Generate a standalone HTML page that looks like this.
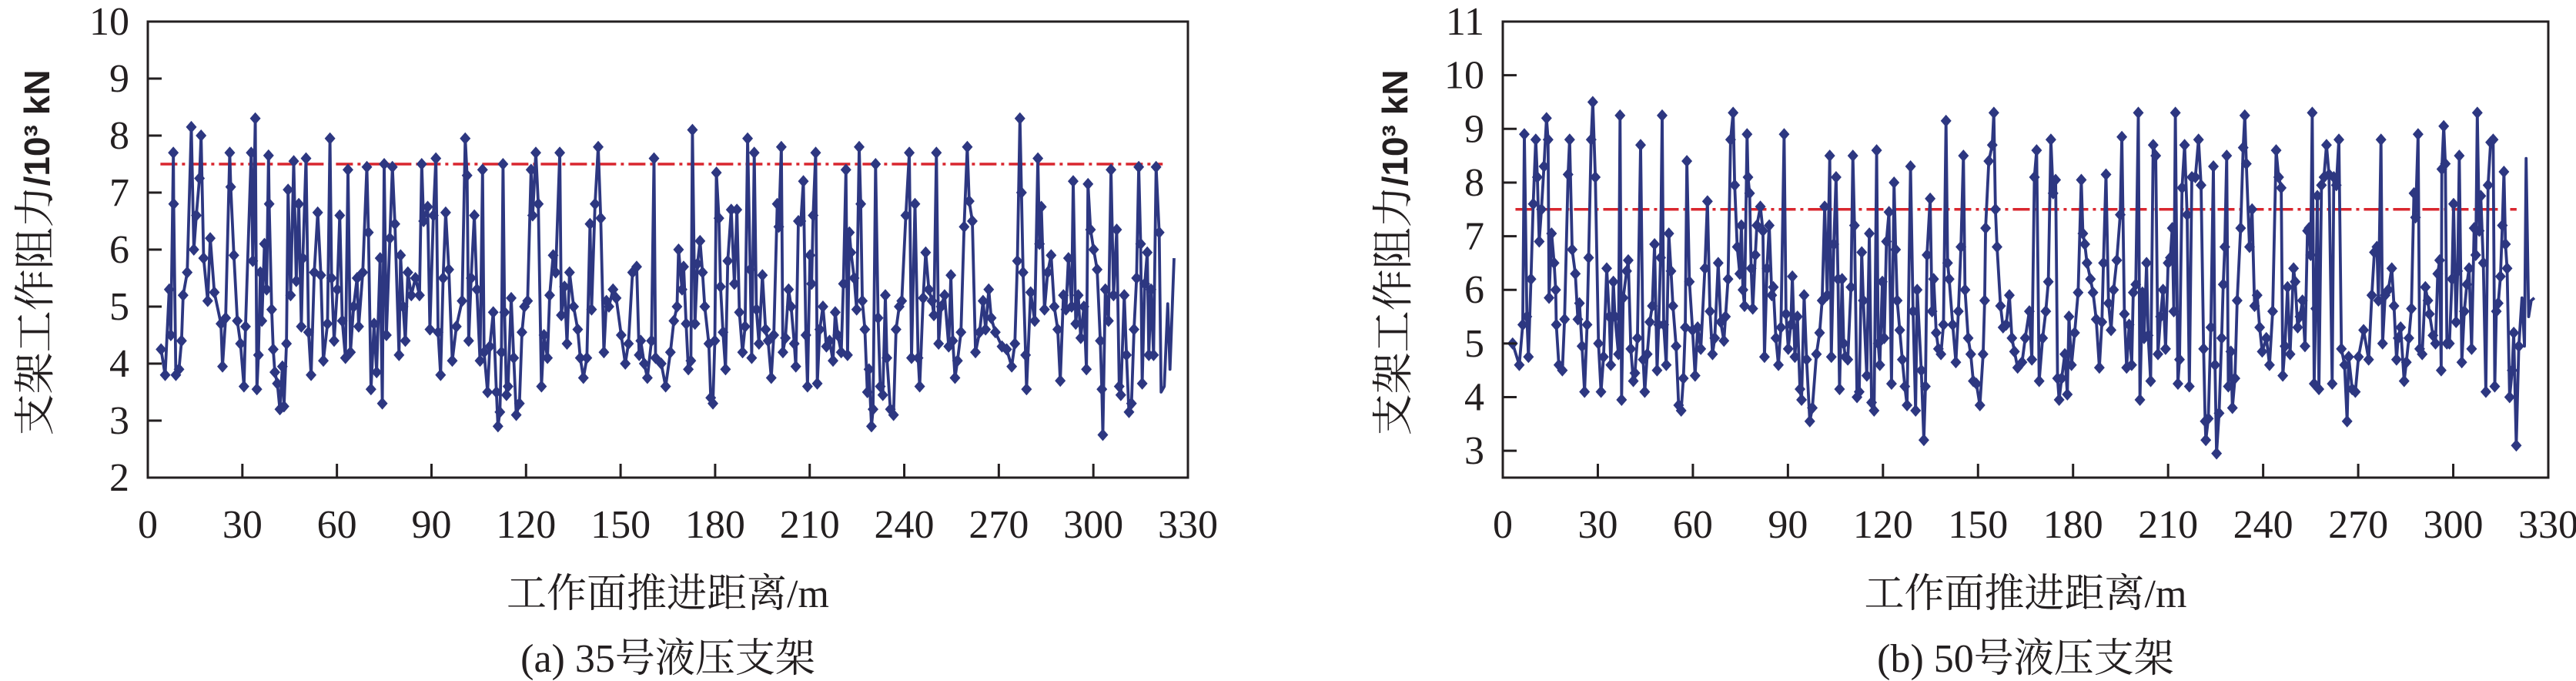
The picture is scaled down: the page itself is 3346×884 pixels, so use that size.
<!DOCTYPE html>
<html><head><meta charset="utf-8">
<style>
html,body{margin:0;padding:0;background:#fff;}
svg{display:block;}
.tk{font-family:"Liberation Serif","Noto Serif CJK SC",serif;font-size:52px;fill:#231f20;}
.ttl{font-family:"Liberation Serif","Noto Serif CJK SC",serif;font-size:52px;fill:#231f20;}
</style></head>
<body>
<svg id="chart" width="3346" height="884" viewBox="0 0 3346 884" xmlns="http://www.w3.org/2000/svg"></svg>
<script>
// ---- Data: (a) support No.35 ----
const distA = [4.2,5.5,6.8,7.3,8.1,8.2,8.9,9.9,10.7,11.2,12.5,13.8,14.6,15.4,16.4,16.9,17.7,19.0,19.8,21.1,23.2,23.7,24.7,26.0,26.3,27.3,28.4,29.4,30.5,31.0,32.8,33.3,34.1,34.6,35.1,35.7,36.2,37.0,37.7,38.3,38.5,39.3,39.8,40.3,41.1,41.9,42.7,43.2,44.0,44.5,45.3,46.3,47.1,47.9,48.7,49.2,50.2,51.0,51.8,52.8,53.9,54.9,55.7,57.0,57.8,58.3,59.1,60.1,60.9,61.7,62.7,63.5,64.3,65.3,66.4,66.9,68.2,69.5,70.0,70.8,71.8,72.6,73.7,74.4,75.0,75.7,76.8,77.6,78.4,79.7,80.2,81.0,81.7,82.5,83.6,84.9,86.2,86.9,87.5,88.8,89.5,90.6,91.4,92.1,92.9,93.7,94.5,95.5,96.6,97.9,99.7,100.7,101.3,101.8,102.6,103.6,104.4,105.4,106.2,106.7,107.8,108.5,109.6,110.6,111.1,111.7,112.2,112.7,113.2,113.8,114.3,115.3,116.1,116.9,117.9,118.7,119.5,120.5,121.6,122.1,123.1,123.9,124.9,125.7,126.8,127.5,128.6,129.4,130.7,131.2,132.2,133.0,133.8,135.1,136.4,137.2,138.2,139.3,140.3,140.8,141.9,142.9,143.7,144.7,145.5,146.3,147.6,148.6,150.2,151.5,152.5,153.8,155.1,155.9,156.4,157.5,158.5,159.8,160.6,161.1,162.9,164.3,165.8,166.9,167.9,168.4,169.5,170.0,170.8,171.5,172.3,172.8,173.6,174.4,175.2,176.0,176.7,178.0,178.6,179.3,179.9,180.4,181.2,181.7,182.5,183.3,184.0,185.1,186.1,186.9,187.7,188.7,189.5,190.3,191.1,191.6,192.4,193.1,193.9,195.0,196.0,196.8,197.8,198.6,199.7,200.2,201.0,201.5,202.3,203.3,204.1,205.1,205.6,206.4,207.2,208.0,208.8,209.3,210.1,210.6,211.1,211.9,212.4,213.2,214.2,215.3,216.3,217.4,218.1,218.9,220.0,220.7,221.5,222.0,222.6,223.1,224.1,224.9,225.7,226.2,226.7,227.5,228.3,228.8,229.6,230.1,230.9,231.7,232.4,233.2,234.0,234.5,235.6,236.6,237.4,238.4,239.2,240.5,241.6,242.3,243.4,244.4,244.9,246.0,246.8,247.8,248.8,249.4,250.2,250.9,251.7,252.8,254.1,254.8,255.4,256.1,256.9,258.0,259.0,260.0,260.6,261.6,262.6,263.9,265.0,265.8,266.8,267.6,268.9,271.0,272.5,274.1,275.1,275.9,276.7,277.2,277.7,278.5,278.8,280.1,281.4,282.4,282.9,283.5,284.5,285.5,286.6,287.6,288.7,289.5,290.5,291.3,292.1,293.1,293.6,294.4,295.2,296.0,297.0,297.8,298.3,299.1,300.1,301.2,302.2,302.7,303.0,303.8,304.8,305.6,306.4,307.4,308.2,308.7,309.8,310.5,311.3,312.1,312.9,313.7,314.4,315.0,315.5,316.3,317.1,317.6,318.3,319.1,319.9,320.9,321.5,322.5,323.6,324.3,325.6];
const loadA = [4.25,3.8,5.3,4.5,7.7,6.8,3.8,3.9,4.4,5.2,5.6,8.15,6.0,6.6,7.25,8.0,5.85,5.1,6.2,5.25,4.7,3.95,4.8,7.7,7.1,5.9,4.75,4.35,3.6,4.65,7.7,5.8,8.3,3.55,4.15,5.6,4.75,6.1,5.3,7.65,6.8,4.95,4.25,3.85,3.65,3.2,3.95,3.25,4.35,7.05,5.2,7.55,5.45,6.8,4.65,5.85,7.6,4.55,3.8,5.6,6.65,5.55,4.05,4.7,7.95,5.5,4.4,5.3,6.6,4.75,4.1,7.4,4.2,5.0,5.5,4.65,5.6,7.45,6.3,3.55,4.7,3.85,5.85,3.3,7.5,4.5,6.2,7.45,6.45,4.15,5.9,5.0,4.4,5.6,5.2,5.5,5.2,7.5,6.5,6.75,4.6,6.6,7.6,4.55,3.8,5.5,6.65,5.65,4.05,4.65,5.1,7.95,7.3,4.4,5.5,6.6,5.3,4.05,7.4,4.2,3.5,4.3,4.9,3.5,2.9,3.15,4.2,7.5,4.9,3.45,3.6,5.15,4.1,3.1,3.3,4.55,5.0,5.1,7.4,6.6,7.7,6.8,3.6,4.5,4.1,5.2,5.9,5.6,7.7,4.85,5.35,4.35,5.6,5.0,4.6,4.1,3.75,4.1,6.45,4.95,6.8,7.8,6.55,4.2,5.1,5.0,5.3,5.15,4.5,4.0,4.35,5.6,5.7,4.15,4.4,4.0,3.75,4.4,7.6,4.1,4.0,3.6,4.2,4.75,5.0,6.0,5.3,5.7,4.7,3.9,4.05,8.1,4.7,5.75,6.15,5.6,5.0,4.35,3.4,3.3,4.4,7.35,6.55,5.35,4.55,3.9,5.8,6.7,5.4,6.7,4.9,4.2,4.65,7.95,5.65,4.1,7.7,4.95,4.35,5.55,4.6,4.4,3.75,4.5,6.8,6.4,7.8,4.2,4.45,5.3,5.0,4.35,3.95,6.5,6.5,7.2,4.5,3.6,5.9,5.4,6.6,7.7,3.65,4.6,5.0,4.3,4.4,4.05,4.9,4.5,4.2,5.4,7.4,4.15,6.3,5.95,5.5,4.95,7.8,6.8,5.1,4.6,3.5,3.9,2.9,3.2,7.5,4.8,3.6,3.45,5.2,4.1,3.2,3.1,4.6,5.0,5.1,6.6,7.7,4.1,6.8,4.1,3.6,5.15,5.95,5.3,5.1,4.85,7.7,4.35,5.0,5.2,4.3,5.55,4.4,3.75,4.05,4.55,6.4,7.8,6.85,6.5,4.2,4.55,5.1,4.6,5.3,4.8,4.55,4.3,4.25,3.95,4.35,5.8,8.3,7.0,5.6,4.15,3.55,5.25,4.75,7.6,6.1,6.75,4.95,5.6,5.9,5.0,4.6,3.7,5.2,4.95,5.85,5.0,7.2,4.7,5.2,4.45,5.0,3.9,7.15,6.35,6.0,5.65,4.4,3.55,2.75,5.3,4.75,7.4,5.2,6.35,3.6,3.45,5.2,4.15,3.15,3.3,4.6,5.5,7.45,6.1,3.65,5.4,5.95,4.15,5.3,4.15,7.45,6.3,3.5,3.6,5.05,3.9,5.85];
const yTicksA = [2,3,4,5,6,7,8,9,10];
// ---- Data: (b) support No.50 ----
const distB = [3.1,5.2,6.3,6.8,7.6,8.1,8.9,9.6,10.4,10.9,11.5,12.2,13.0,13.8,14.3,14.6,15.4,16.2,16.7,16.9,17.7,18.8,19.5,20.6,21.1,21.9,22.9,23.7,24.2,25.0,25.8,26.6,27.1,27.9,28.4,29.2,30.2,31.0,31.8,32.8,33.6,34.1,34.9,35.4,36.5,37.0,37.5,38.0,39.1,39.6,40.4,41.2,41.7,42.5,43.5,44.3,44.8,45.6,46.4,47.2,47.9,48.7,49.2,49.8,50.3,50.8,51.6,52.4,53.1,53.7,54.7,55.5,56.3,57.0,57.6,58.1,58.9,59.9,60.7,61.5,62.5,63.8,64.6,65.4,66.2,66.9,68.0,68.8,69.8,70.3,71.1,71.9,72.7,73.2,74.0,74.8,75.3,75.8,76.3,77.1,77.4,77.9,78.4,78.9,79.7,80.2,81.3,82.1,82.6,83.4,84.1,84.9,85.4,86.2,87.0,87.8,88.8,89.4,90.1,90.9,91.4,92.2,93.0,93.8,94.3,95.1,95.9,96.9,97.7,99.0,100.0,100.8,101.6,102.4,103.2,103.7,104.5,105.2,105.8,106.3,107.1,107.6,108.1,108.9,109.9,110.5,111.0,111.8,112.5,113.3,113.8,114.9,115.7,116.4,117.2,118.0,118.5,119.0,119.8,120.4,121.1,121.9,122.7,123.5,124.0,124.5,125.3,126.1,126.9,127.6,128.7,129.5,130.3,130.8,132.1,132.9,133.4,133.9,134.9,135.5,136.0,136.8,137.5,138.3,139.1,139.9,140.4,140.9,142.0,143.0,143.8,144.6,145.4,145.9,146.9,147.7,148.5,149.5,150.6,151.6,152.1,152.4,153.4,154.5,155.0,155.5,156.0,157.1,157.9,158.9,159.9,160.7,161.5,162.5,163.9,164.9,166.2,167.0,167.8,168.5,169.3,170.4,171.4,172.2,173.0,173.7,174.5,175.1,175.6,176.4,177.4,178.2,178.7,179.5,180.5,181.6,182.6,183.1,183.7,184.4,185.5,186.3,187.3,188.3,189.1,189.6,190.4,191.2,192.0,192.8,193.8,194.9,195.4,196.2,196.9,197.7,198.5,199.0,199.8,200.6,201.1,201.9,202.4,203.2,203.7,204.5,205.3,206.1,206.8,207.6,208.4,209.2,210.0,210.7,211.3,211.8,212.3,213.1,213.6,214.4,215.2,216.0,216.7,217.5,218.6,219.6,220.4,221.2,221.7,221.9,222.7,223.5,224.3,224.8,225.3,226.1,226.9,227.4,227.9,228.5,229.0,229.8,230.3,231.1,231.8,232.9,233.7,234.2,234.7,235.7,236.5,237.3,238.1,238.9,239.7,241.0,242.0,243.0,244.1,244.9,245.7,246.2,246.9,247.7,248.5,249.6,250.1,250.9,251.6,252.4,253.2,254.0,254.5,255.0,255.5,256.1,256.6,257.1,257.6,258.4,259.2,260.0,260.8,261.8,262.3,263.1,263.9,264.7,265.7,266.5,267.0,268.1,269.1,270.1,271.7,273.3,274.3,275.1,275.9,276.4,277.2,277.7,278.5,279.5,280.6,281.3,282.1,282.6,283.4,284.5,285.2,286.0,286.8,287.6,288.1,288.9,289.4,290.2,291.2,292.0,292.5,293.6,294.4,295.1,295.7,296.2,296.4,297.0,297.5,298.0,298.8,299.6,300.1,300.9,301.4,301.9,302.7,303.5,304.3,305.0,305.8,306.6,307.1,307.6,308.2,308.7,309.5,310.3,311.0,311.8,312.6,313.1,313.6,314.2,314.9,315.5,316.0,316.5,317.0,317.8,318.6,319.1,319.9,320.7,321.7,322.5,323.0,323.8,324.6,325.6];
const loadB = [5.0,4.6,5.35,8.9,5.5,4.75,6.2,7.6,8.8,8.1,6.9,7.5,8.3,9.2,8.8,5.85,7.05,6.5,6.0,5.35,4.6,4.5,5.45,8.15,8.8,6.75,6.3,5.45,5.75,4.95,4.1,5.35,6.6,8.8,9.5,8.1,5.0,4.1,4.75,6.4,5.5,4.6,6.15,5.5,4.8,9.25,3.95,5.85,6.35,6.55,4.9,4.3,4.45,5.1,8.7,4.7,4.1,4.8,5.4,5.7,6.85,4.5,5.35,6.6,9.25,5.35,4.6,7.05,6.35,5.7,4.95,3.85,3.75,4.35,5.3,8.4,6.15,5.25,4.4,5.3,4.9,6.4,7.65,5.6,4.8,5.1,6.5,5.4,5.05,5.5,6.2,8.8,9.3,7.95,6.8,6.3,7.2,6.0,5.7,8.9,8.1,7.8,6.4,5.65,6.65,7.2,7.55,7.1,4.75,6.4,7.2,5.9,6.05,5.1,4.6,5.3,8.9,5.55,4.9,5.35,6.25,4.75,5.5,4.15,3.95,5.9,4.7,3.55,3.8,4.8,5.2,5.8,7.55,5.9,8.5,4.75,6.85,8.1,6.2,4.15,6.2,5.0,4.75,4.7,6.05,8.5,7.2,4.0,4.1,6.7,5.8,4.4,7.05,3.9,3.75,8.6,5.0,4.6,6.15,5.1,6.9,7.45,4.25,8.0,6.75,5.8,5.25,4.7,4.2,3.85,8.3,5.6,3.75,6.0,4.5,3.2,4.2,6.65,7.7,5.6,6.2,5.2,4.9,4.8,5.35,9.15,6.5,6.2,5.35,4.65,5.6,6.8,8.5,6.0,5.1,4.8,4.3,4.25,3.85,4.8,5.8,7.15,8.4,8.7,9.3,7.5,6.8,5.7,5.3,5.35,5.9,5.1,4.85,4.55,4.65,5.1,5.6,4.7,8.1,8.6,4.3,5.1,5.6,6.15,8.8,7.8,8.05,4.35,3.95,4.35,4.8,4.05,5.5,4.6,5.2,5.95,8.05,7.05,6.85,6.5,6.2,5.95,5.45,4.55,5.4,6.5,8.15,5.75,5.25,6.0,6.55,7.4,8.85,5.55,4.55,5.35,4.6,5.95,6.1,9.3,3.95,5.95,5.1,6.5,5.15,4.3,8.7,8.5,4.8,5.5,6.0,4.9,6.5,6.6,7.15,5.6,9.3,4.25,4.7,7.9,8.7,7.4,4.2,8.1,8.1,8.8,7.95,4.9,3.55,3.2,3.6,5.3,8.3,4.6,2.95,3.7,5.1,6.1,6.8,8.5,4.2,4.85,3.8,4.35,5.8,7.15,8.65,9.25,8.35,6.8,7.5,5.7,5.9,5.3,4.85,5.1,4.6,5.6,8.6,8.1,7.9,4.4,4.95,6.05,4.8,6.4,6.15,5.3,5.5,5.8,4.95,7.1,7.15,6.65,9.3,4.25,5.65,7.75,4.15,7.95,8.1,8.7,8.15,4.25,8.1,7.95,8.8,4.9,4.6,3.55,4.75,4.15,4.1,4.75,5.25,4.7,5.9,6.7,6.8,5.8,8.8,5.0,5.9,6.0,6.4,5.7,4.7,5.1,5.3,4.3,4.65,5.1,5.65,7.8,7.35,8.9,4.9,4.8,6.05,5.8,5.55,5.15,5.0,6.3,6.55,4.5,8.25,9.05,8.35,5.0,5.0,6.2,7.6,5.4,6.35,8.5,4.65,5.6,6.1,6.4,4.9,7.15,6.65,9.3,7.1,7.75,6.5,4.1,7.95,8.75,8.8,4.2,5.6,5.75,6.25,7.2,8.2,6.85,6.4,4.0,4.5,5.2,3.1,4.95,5.85,4.95,8.45,5.5,5.8,5.85];
const yTicksB = [3,4,5,6,7,8,9,10,11];
const xTicks = [0,30,60,90,120,150,180,210,240,270,300,330];
const limitLoad = 7.5;

const NS = "http://www.w3.org/2000/svg";
const svg = document.getElementById('chart');
function mk(tag, attrs, parent){
  const e = document.createElementNS(NS, tag);
  for (const k in attrs) e.setAttribute(k, attrs[k]);
  (parent||svg).appendChild(e);
  return e;
}

function drawPanel(cfg){
  const g = mk('g', {});
  
  
  const sx = v => cfg.L + (v - 0) / 330 * (cfg.R - cfg.L);
  const sy = v => cfg.B - (v - cfg.ymin) / (cfg.ymax - cfg.ymin) * (cfg.B - cfg.T);

  const lim = mk('line', {x1:sx(cfg.limFrom), x2:sx(cfg.limTo), y1:sy(limitLoad), y2:sy(limitLoad),
    stroke:'#d9262e','stroke-width':3.5,'stroke-dasharray':'22 6 4 6'}, g);
  
  

  let d = '';
  const n = Math.min(cfg.xs.length, cfg.ys.length);
  for (let i=0;i<n;i++) d += (i?'L':'M') + sx(cfg.xs[i]).toFixed(1) + ' ' + sy(cfg.ys[i]).toFixed(1);
  const p = mk('path', {d:d, fill:'none', stroke:'#2d3781','stroke-width':3.8,'stroke-linejoin':'round'}, g);
  
  
  for (let i=0;i<n;i++){
    if (cfg.xs[i] > cfg.markerMax) continue;
    const cx = sx(cfg.xs[i]), cy = sy(cfg.ys[i]);
    const m = mk('path', {d:`M${cx} ${cy-8}L${cx+7} ${cy}L${cx} ${cy+8}L${cx-7} ${cy}Z`, fill:'#2d3781'}, g);
    
    
  }

  const fr = mk('rect', {x:cfg.L, y:cfg.T, width:cfg.R-cfg.L, height:cfg.B-cfg.T, fill:'none', stroke:'#231f20','stroke-width':3}, g);
  
  

  cfg.yTicks.forEach(v=>{
    const y = sy(v);
    if (v > cfg.ymin && v < cfg.ymax){
      const t = mk('line', {x1:cfg.L, x2:cfg.L+18, y1:y, y2:y, stroke:'#231f20','stroke-width':3}, g);
      
      
    }
    const tx = mk('text', {x:cfg.L-24, y:y+17, 'text-anchor':'end', class:'tk'}, g);
    tx.textContent = v;
    
    
  });
  xTicks.forEach(v=>{
    const x = sx(v);
    if (v > 0 && v < 330){
      const t = mk('line', {x1:x, x2:x, y1:cfg.B, y2:cfg.B-18, stroke:'#231f20','stroke-width':3}, g);
      
      
    }
    const tx = mk('text', {x:x, y:698, 'text-anchor':'middle', class:'tk'}, g);
    tx.textContent = v;
    
    
  });

  const yt = mk('text', {x:0, y:0, transform:`translate(${cfg.ytx},328) rotate(-90)`, 'text-anchor':'middle', class:'ttl'}, g);
  
  
  const s1 = mk('tspan', {'font-size':'54'}, yt); s1.textContent = '支架工作阻力';
  const s2 = mk('tspan', {'font-family':'"Liberation Sans",sans-serif','font-weight':'bold','font-size':'46'}, yt); s2.textContent = '/10³ kN';

  const cx = (cfg.L + cfg.R)/2;
  const xt = mk('text', {x:cx, y:788, 'text-anchor':'middle', class:'ttl', 'font-size':'54'}, g);
  xt.textContent = '工作面推进距离/m';
  
  
  const cap = mk('text', {x:cx, y:872, 'text-anchor':'middle', class:'ttl', 'font-size':'54'}, g);
  cap.textContent = cfg.caption;
  
  
}

drawPanel({name:'panel-a-support-35', L:192, R:1543, T:28, B:620, ymin:2, ymax:10, yTicks:yTicksA,
  xs:distA, ys:loadA, markerMax:321, limFrom:4, limTo:322, ytx:64, caption:'(a) 35号液压支架'});
drawPanel({name:'panel-b-support-50', L:1952, R:3310, T:28, B:620, ymin:2.5, ymax:11, yTicks:yTicksB,
  xs:distB, ys:loadB, markerMax:321, limFrom:4, limTo:320, ytx:1828, caption:'(b) 50号液压支架'});
</script>
</body></html>
